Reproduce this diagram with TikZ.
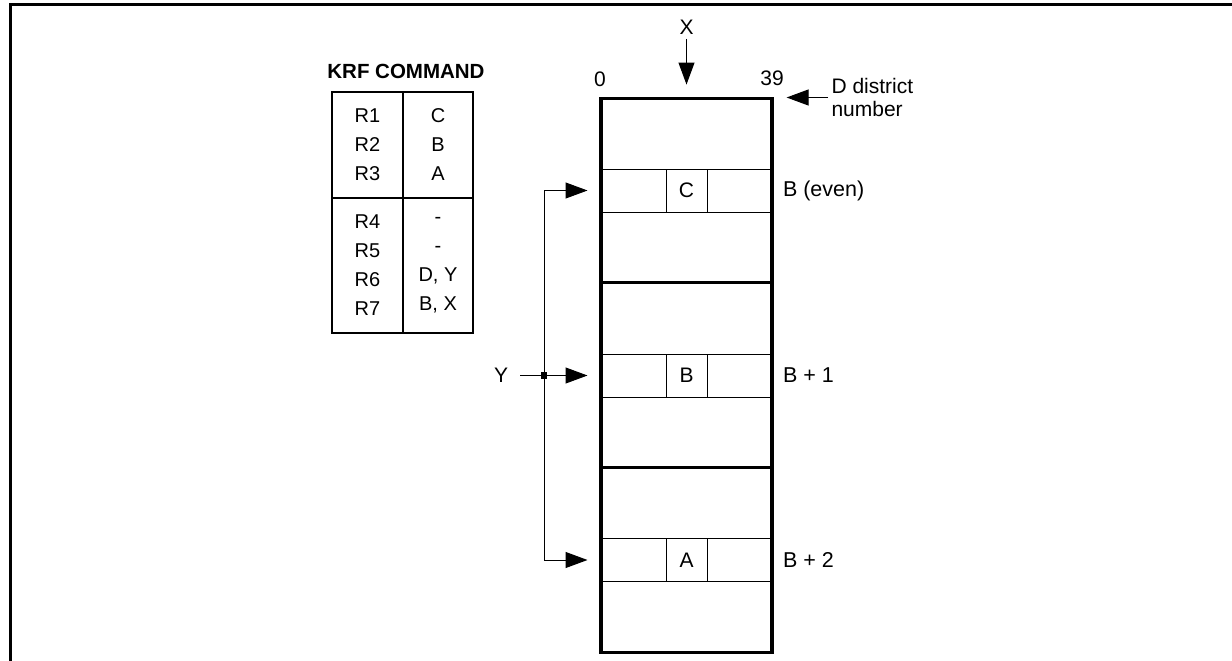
\documentclass[tikz,border=0pt]{standalone}
\usepackage{fontspec}
\setmainfont{Liberation Sans}
\usetikzlibrary{arrows.meta}

\tikzset{
  bigtip/.style={-{Triangle[length=22pt,width=16pt]}},
  section/.style={draw,line width=3.2pt,minimum width=171pt,minimum height=184.7pt,inner sep=0pt},
  row/.style={draw,line width=1pt,minimum width=171pt,minimum height=43pt,inner sep=0pt},
  cell/.style={draw,line width=1pt,minimum width=41pt,minimum height=43pt,inner sep=0pt},
  tcell/.style={draw,line width=2.2pt,align=center,inner sep=0pt,font=\fontsize{20}{29}\selectfont},
}

\begin{document}
\begin{tikzpicture}[x=1pt,y=-1pt,font=\fontsize{21}{24}\selectfont]
  \useasboundingbox (0,0) rectangle (1232,661);
  % frame
  \draw[line width=3.5pt] (10.5,661) -- (10.5,4.5) -- (1232,4.5);

  % command table
  \node[font=\bfseries\fontsize{20.5}{24}\selectfont] (title) at (406,71) {KRF COMMAND};
  \begin{scope}
    \node[tcell,minimum width=71pt,minimum height=106pt] (regA) at (367.5,145) {R1\\R2\\R3};
    \node[tcell,minimum width=70pt,minimum height=106pt] (valA) at (438,145) {C\\B\\A};
    \node[tcell,minimum width=71pt,minimum height=135pt] (regB) at (367.5,265.5) {R4\\R5\\R6\\R7};
    \node[tcell,minimum width=70pt,minimum height=135pt] (valB) at (438,265.5) {-\\-\\D, Y\\B, X};
  \end{scope}

  % district blocks
  \begin{scope}
    \node[section] (blk0) at (686.5,190.5) {};
    \node[section] (blk1) at (686.5,375.2) {};
    \node[section] (blk2) at (686.5,559.9) {};
    \node[row] (rowC) at (686.5,190.5) {};
    \node[row] (rowB) at (686.5,375.5) {};
    \node[row] (rowA) at (686.5,560) {};
    \node[cell] (C) at (686.5,190.5) {C};
    \node[cell] (B) at (686.5,375.5) {B};
    \node[cell] (A) at (686.5,560) {A};
  \end{scope}

  % labels
  \node (zero) at (600,79) {0};
  \node (last) at (772,78) {39};
  \node (X) at (686.5,27) {X};
  \node[anchor=west,align=left,font=\fontsize{21}{23.5}\selectfont] (dnum) at (828,97.5) {D district\\number};
  \begin{scope}[every node/.style={anchor=west,font=\fontsize{21.5}{24}\selectfont}]
    \node (lblC) at ([xshift=7pt]rowC.east) {B (even)};
    \node (lblB) at ([xshift=7pt]rowB.east) {B + 1};
    \node (lblA) at ([xshift=7pt]rowA.east) {B + 2};
  \end{scope}

  % address lines
  \node (Y) at (501,375.5) {Y};
  \node[fill,minimum size=6.5pt,inner sep=0pt] (bus) at (544,375.5) {};
  \coordinate (tipC) at ([xshift=-13pt]rowC.west);
  \coordinate (tipB) at ([xshift=-13pt]rowB.west);
  \coordinate (tipA) at ([xshift=-13pt]rowA.west);

  \begin{scope}[line width=1pt]
    \draw[shorten <=8.6pt] (Y) -- (bus.center);
    \draw[bigtip] (bus.center) |- (tipC);
    \draw[bigtip] (bus.center) -- (tipB);
    \draw[bigtip] (bus.center) |- (tipA);
    \draw[bigtip,shorten <=1pt,shorten >=12pt] (X) -- (blk0.north);
    \draw[bigtip] (dnum.west) -- ([xshift=13pt]dnum.west -| blk0.east);
  \end{scope}
\end{tikzpicture}
\end{document}
